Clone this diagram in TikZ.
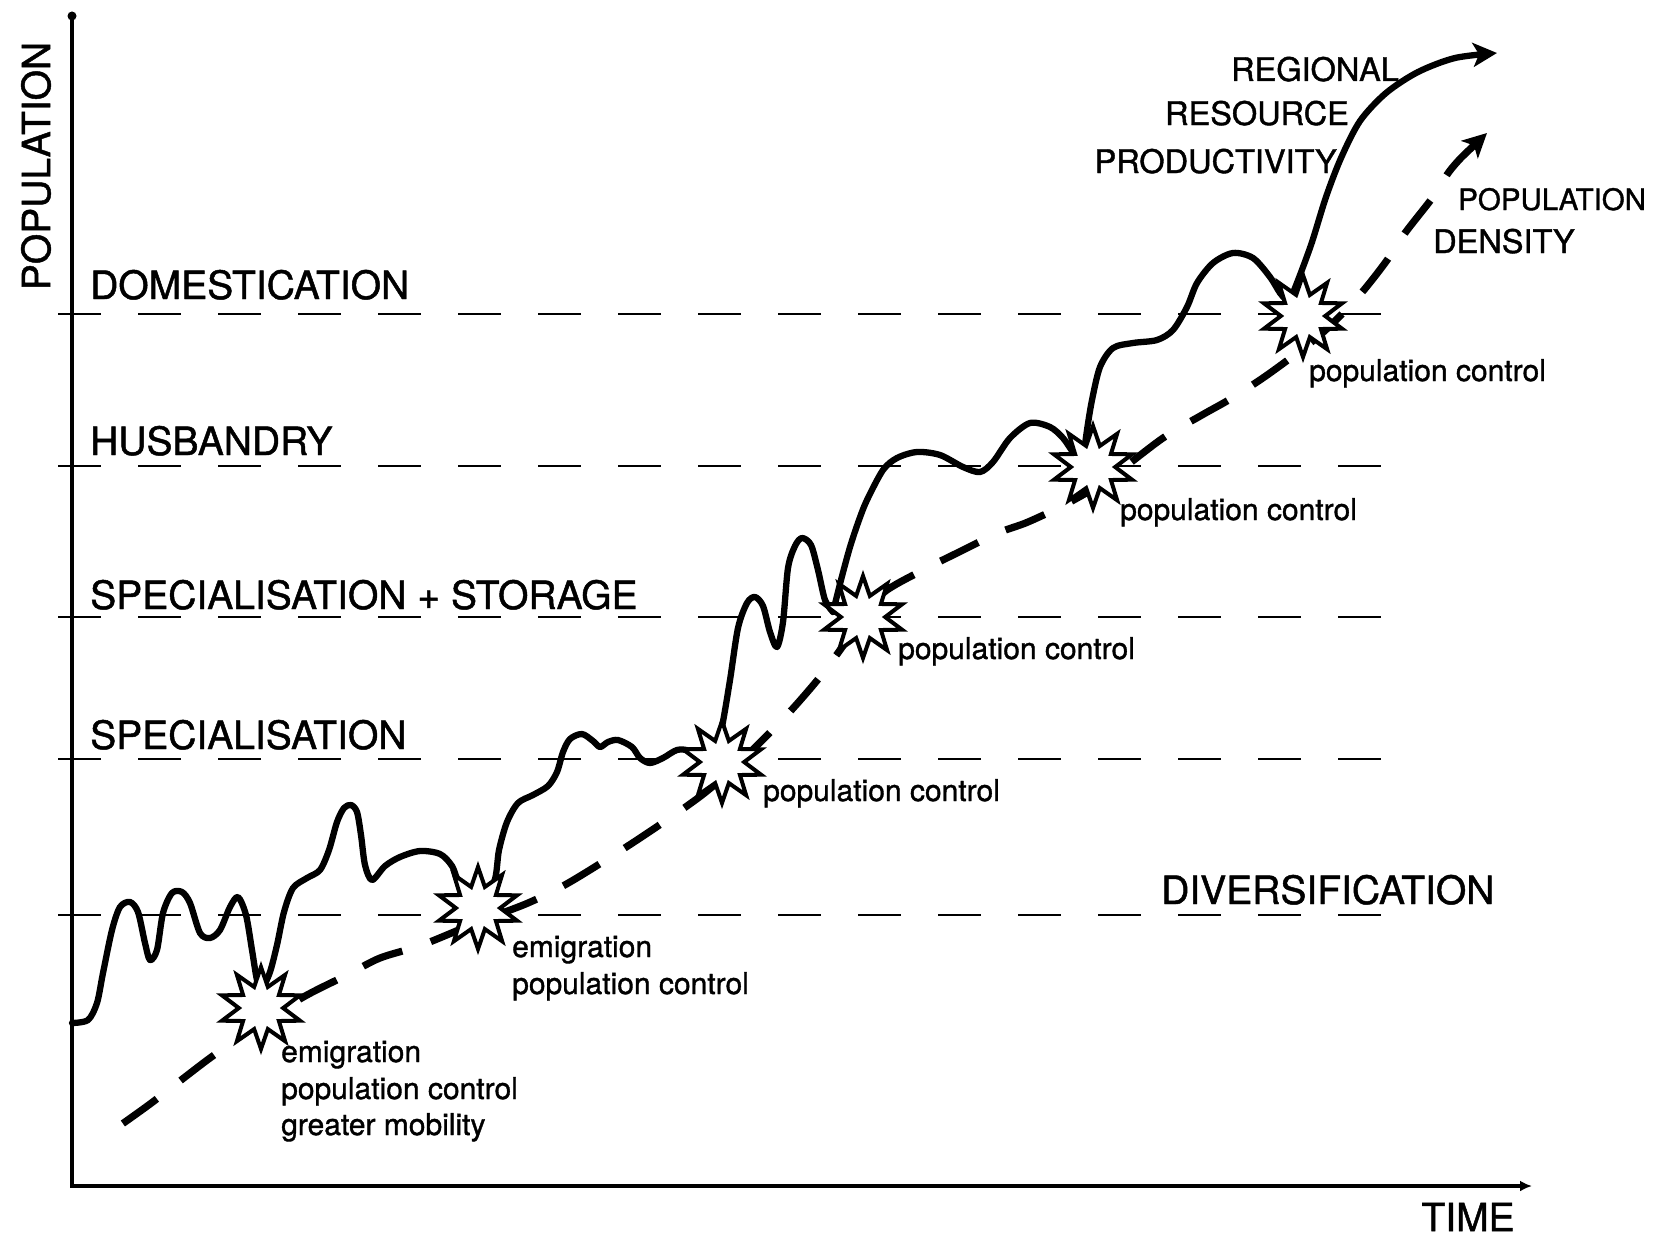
\documentclass[tikz,border=0pt]{standalone}
\usepackage{fontspec}
\setmainfont{TeX Gyre Heros}[BoldFont={TeX Gyre Heros}, BoldFeatures={FakeBold=1.2}]
\usetikzlibrary{arrows.meta,shapes.geometric}
\begin{document}
\begin{tikzpicture}[x=1pt,y=-1pt,
  stage/.style={line width=2.6pt, dash pattern=on 43pt off 37pt},
  axisline/.style={line width=3.4pt},
  growth/.style={line width=6.3pt, line cap=round, line join=round},
  dens/.style={line width=7.2pt, dash pattern=on 42pt off 30pt},
  burst/.style={star, star points=10, star point ratio=1.85, minimum size=82pt, inner sep=0pt, draw, line width=4pt, fill=white},
  capbig/.style={font=\fontsize{39}{45}\selectfont\bfseries, inner sep=0pt},
  capmid/.style={font=\fontsize{32.5}{40}\selectfont\bfseries, inner sep=0pt},
  lowtext/.style={font=\fontsize{30}{37}\selectfont\bfseries, inner sep=0pt},
  tip/.style={-{Stealth[length=24pt,width=24pt,inset=6pt]}},
]
\useasboundingbox (0,0) rectangle (1653,1239);

% stage lines
\foreach \yy in {314,466,617,759,915} \draw[stage] (58,\yy) -- (1383,\yy);

% axes
\draw[axisline, -{Latex[length=12pt,width=11pt]}] (72,16) -- (72,1186) -- (1532,1186);
\fill (72,16) circle[radius=4.5pt];

% population density (dashed)
\draw[dens, {Stealth[length=24pt,width=24pt,inset=6pt]}-] plot[smooth] coordinates {
 (1487,133) (1452,168) (1433,197) (1405,233) (1385,263) (1357,298) (1320,335)
 (1270,373) (1232,398) (1202,415) (1163,438) (1110,478) (1070,502) (1028,522)
 (998,533) (953,555) (923,570) (883,593) (858,625) (835,657) (815,683) (785,717)
 (745,757) (702,795) (637,840) (570,882) (528,903) (478,922) (422,945) (380,958)
 (347,975) (307,995) (262,1022) (210,1058) (150,1104) (105,1136)};

% regional resource productivity (solid)
\draw[growth] plot[smooth] coordinates {
 (72,1023) (88,1020) (97,1003) (103,973) (112,930) (120,907) (130,902) (138,912)
 (145,943) (150,960) (157,950) (163,913) (172,893) (182,892) (190,903) (200,933)
 (210,938) (220,930) (230,907) (238,897) (246,915) (252,950) (257,980) (262,990)};
\draw[growth] plot[smooth] coordinates {
 (262,990) (270,972) (277,945) (284,912) (293,888) (307,878) (320,870) (329,850)
 (337,822) (344,808) (351,805) (357,812) (361,835) (365,865) (372,880) (385,866)
 (400,857) (420,851) (440,854) (452,866) (460,885) (476,900)};
\draw[growth] plot[smooth] coordinates {
 (476,900) (494,882) (499,850) (507,822) (518,803) (533,795) (548,786) (557,772)
 (563,752) (570,739) (582,734) (593,741) (600,747) (608,742) (618,740) (632,747)
 (640,758) (650,763) (663,758) (677,750) (690,751) (714,762)};
\draw[growth] plot[smooth] coordinates {
 (714,762) (722,727) (730,680) (738,628) (747,603) (755,597) (763,606) (770,632)
 (777,647) (783,622) (788,568) (795,546) (802,538) (811,545) (818,570) (825,600)
 (833,612)};
\draw[growth] plot[smooth] coordinates {
 (833,612) (841,580) (850,547) (859,520) (867,500) (883,470) (897,458) (917,452)
 (940,455) (963,467) (980,472) (993,462) (1010,438) (1030,423) (1050,427)
 (1063,438) (1073,452) (1083,460)};
\draw[growth] plot[smooth] coordinates {
 (1083,460) (1087,430) (1092,400) (1100,367) (1113,348) (1133,343) (1157,340)
 (1173,330) (1187,307) (1197,283) (1213,263) (1233,253) (1253,258) (1270,277)
 (1280,293) (1289,303)};
\draw[growth, tip] plot[smooth] coordinates {
 (1289,303) (1300,275) (1312,242) (1326,197) (1341,158) (1360,121) (1386,93)
 (1418,72) (1455,58) (1497,53)};

% bursts
\node[burst] (s1) at (261,1008) {};
\node[burst] (s2) at (478,908) {};
\node[burst] (s3) at (722,762) {};
\node[burst] (s4) at (863,617) {};
\node[burst] (s5) at (1093,467) {};
\node[burst] (s6) at (1303,316) {};

% stage labels
\node[capbig, anchor=base west] (dom) at (90,299) {DOMESTICATION};
\node[capbig, anchor=base west] (hus) at (90,455) {HUSBANDRY};
\node[capbig, anchor=base west] (sps) at (90,609) {SPECIALISATION + STORAGE};
\node[capbig, anchor=base west] (spe) at (90,749) {SPECIALISATION};
\node[capbig, anchor=base west] (div) at (1161,904) {DIVERSIFICATION};
\node[capbig, rotate=90] (ylab) at (36,166) {POPULATION};
\node[capbig] (xlab) at (1468,1217) {TIME};

% curve labels
\node[capmid, anchor=base east] (reg) at (1399,81) {REGIONAL};
\node[capmid, anchor=base east] (res) at (1349,125) {RESOURCE};
\node[capmid, anchor=base east] (pro) at (1337,173) {PRODUCTIVITY};
\node[capmid, anchor=base west, font=\fontsize{29.5}{36}\selectfont\bfseries] (pop) at (1458,210) {POPULATION};
\node[capmid, anchor=base west] (den) at (1433,253) {DENSITY};

% event labels
\node[lowtext, anchor=base west] (pc6) at (1309,381) {population control};
\node[lowtext, anchor=base west] (pc5) at (1120,520) {population control};
\node[lowtext, anchor=base west] (pc4) at (898,659) {population control};
\node[lowtext, anchor=base west] (pc3) at (763,801) {population control};
\node[lowtext, anchor=base west] (em2) at (512,957) {emigration};
\node[lowtext, anchor=base west] (pc2) at (512,994) {population control};
\node[lowtext, anchor=base west] (em1) at (281,1062) {emigration};
\node[lowtext, anchor=base west] (pc1) at (281,1099) {population control};
\node[lowtext, anchor=base west] (mob) at (281,1135) {greater mobility};
\end{tikzpicture}
\end{document}
